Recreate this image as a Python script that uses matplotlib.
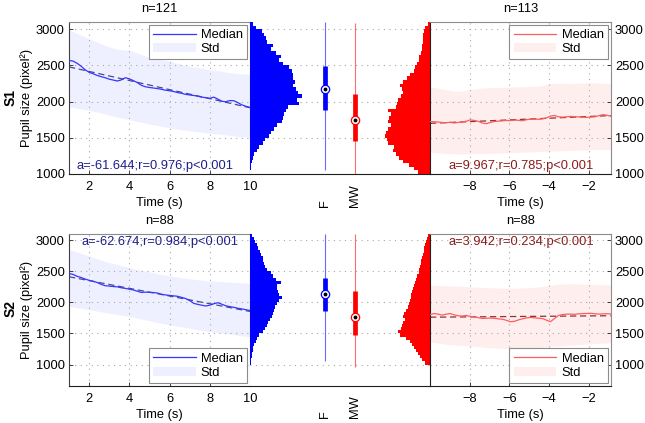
import numpy as np
import matplotlib
matplotlib.use('Agg')
import matplotlib.pyplot as plt

plt.rcParams['font.family'] = ['Liberation Sans', 'DejaVu Sans']
plt.rcParams['font.size'] = 9.3

# ---------------- data ----------------
subjects = ['S1', 'S2']
n_f = [121, 88]
n_mw = [113, 88]
stat_f = ['a=-61.644;r=0.976;p<0.001', 'a=-62.674;r=0.984;p<0.001']
stat_mw = ['a=9.967;r=0.785;p<0.001', 'a=3.942;r=0.234;p<0.001']

# median traces (46 samples over the time window)
s1_f_median = [2570, 2560, 2530, 2490, 2440, 2405, 2385, 2362, 2345, 2330, 2310, 2298,
               2285, 2300, 2330, 2315, 2290, 2262, 2225, 2205, 2195, 2188, 2180, 2170,
               2158, 2150, 2140, 2125, 2115, 2100, 2092, 2085, 2075, 2062, 2055, 2045,
               2062, 2035, 2005, 1998, 2015, 2012, 1985, 1955, 1935, 1920]
s2_f_median = [2465, 2450, 2420, 2400, 2375, 2355, 2340, 2320, 2290, 2268, 2262, 2255,
               2250, 2235, 2225, 2212, 2200, 2180, 2160, 2165, 2162, 2158, 2150, 2130,
               2120, 2112, 2105, 2098, 2080, 2062, 2030, 1985, 1968, 1955, 1942, 1955,
               1978, 1995, 1970, 1945, 1932, 1920, 1905, 1895, 1882, 1870]
s1_mw_median = [1725, 1722, 1718, 1712, 1708, 1715, 1705, 1712, 1722, 1728, 1748, 1740,
                1728, 1705, 1695, 1712, 1725, 1730, 1735, 1740, 1738, 1745, 1742, 1735,
                1750, 1758, 1760, 1755, 1762, 1775, 1800, 1808, 1790, 1785, 1790, 1796,
                1792, 1788, 1784, 1782, 1786, 1790, 1805, 1820, 1812, 1798]
s2_mw_median = [1805, 1820, 1812, 1795, 1810, 1820, 1800, 1785, 1780, 1790, 1775, 1768,
                1755, 1742, 1745, 1748, 1745, 1735, 1730, 1712, 1690, 1695, 1718, 1735,
                1750, 1758, 1752, 1745, 1740, 1715, 1690, 1740, 1790, 1805, 1810, 1812,
                1808, 1815, 1820, 1822, 1825, 1818, 1812, 1815, 1818, 1815]

# std bands (19 samples over the time window)
s1_f_upper = [2990, 2930, 2870, 2810, 2755, 2720, 2710, 2660, 2610, 2585, 2560, 2520,
              2490, 2465, 2440, 2425, 2400, 2385, 2375]
s1_f_lower = [1930, 1905, 1880, 1850, 1815, 1780, 1750, 1720, 1690, 1665, 1640, 1615,
              1595, 1580, 1565, 1550, 1535, 1515, 1505]
s2_f_upper = [2850, 2800, 2745, 2690, 2640, 2600, 2560, 2520, 2490, 2455, 2425, 2400,
              2380, 2360, 2345, 2335, 2325, 2318, 2312]
s2_f_lower = [1940, 1910, 1880, 1855, 1825, 1800, 1775, 1740, 1705, 1670, 1640, 1610,
              1585, 1555, 1530, 1510, 1490, 1465, 1450]
s1_mw_upper = [2205, 2180, 2155, 2140, 2165, 2185, 2195, 2195, 2200, 2205, 2210, 2215,
               2250, 2255, 2250, 2255, 2260, 2255, 2250]
s1_mw_lower = [1300, 1290, 1280, 1275, 1280, 1285, 1285, 1290, 1295, 1300, 1305, 1310,
               1315, 1320, 1325, 1330, 1335, 1340, 1340]
s2_mw_upper = [2280, 2270, 2265, 2262, 2250, 2242, 2235, 2228, 2225, 2230, 2240, 2250,
               2275, 2295, 2300, 2295, 2290, 2285, 2280]
s2_mw_lower = [1365, 1340, 1320, 1310, 1300, 1285, 1270, 1260, 1258, 1262, 1268, 1275,
               1290, 1300, 1315, 1325, 1335, 1345, 1350]

# histogram counts, bins of 50 from 3100 (first) down to 1000 (last)
s1_f_hist = [10, 18, 35, 42, 48, 52, 68, 62, 78, 92, 88, 100, 118, 125, 128, 130, 135,
             130, 138, 145, 155, 140, 148, 115, 108, 102, 98, 95, 80, 72, 62, 58, 45,
             38, 28, 22, 12, 8, 5, 3, 2, 1]
s1_mw_hist = [6, 14, 18, 20, 21, 22, 23, 24, 28, 32, 34, 40, 44, 48, 60, 70, 80, 90,
              85, 82, 88, 95, 98, 102, 125, 118, 122, 127, 118, 127, 132, 134, 130,
              125, 108, 112, 102, 92, 82, 62, 47, 35]
s2_f_hist = [7, 12, 16, 20, 24, 30, 34, 38, 40, 42, 46, 52, 64, 70, 78, 92, 80, 82,
             84, 88, 96, 88, 82, 75, 72, 70, 66, 60, 55, 50, 46, 40, 28, 22, 18, 12,
             10, 8, 7, 5, 4, 2]
s2_mw_hist = [5, 10, 12, 15, 17, 19, 22, 24, 26, 28, 30, 32, 34, 38, 42, 46, 48, 52,
              54, 57, 58, 60, 63, 66, 72, 78, 82, 75, 80, 84, 88, 97, 90, 72, 60, 54,
              48, 42, 36, 30, 24, 16]
hist_edges = np.arange(1000, 3101, 50)

# boxplot summaries: whisker low, q1, median, q3, whisker high
s1_f_box = [1055, 1881, 2180, 2491, 3100]
s1_mw_box = [1000, 1454, 1744, 2102, 3085]
s2_f_box = [1058, 1854, 2140, 2400, 3100]
s2_mw_box = [961, 1470, 1773, 2185, 3100]

box_labels = ['F', 'MW']
f_ticks = [2, 4, 6, 8, 10]
mw_ticks = [-8, -6, -4, -2]

rows = [
    dict(f_med=s1_f_median, f_up=s1_f_upper, f_lo=s1_f_lower,
         mw_med=s1_mw_median, mw_up=s1_mw_upper, mw_lo=s1_mw_lower,
         f_hist=s1_f_hist, mw_hist=s1_mw_hist, f_box=s1_f_box, mw_box=s1_mw_box,
         ylim=(1000, 3100), yticks=[1000, 1500, 2000, 2500, 3000],
         leg='upper right', txt_y=0.053, txt_x=0.475),
    dict(f_med=s2_f_median, f_up=s2_f_upper, f_lo=s2_f_lower,
         mw_med=s2_mw_median, mw_up=s2_mw_upper, mw_lo=s2_mw_lower,
         f_hist=s2_f_hist, mw_hist=s2_mw_hist, f_box=s2_f_box, mw_box=s2_mw_box,
         ylim=(660, 3100), yticks=[1000, 1500, 2000, 2500, 3000],
         leg='lower right', txt_y=0.945, txt_x=0.5),
]

# ---------------- styling ----------------
BLUE_LINE = '#3535ff'
BLUE_BAND = '#eef0ff'
BLUE_FIT = '#4a4a8a'
BLUE_TXT = '#1e1e8c'
RED_LINE = '#ff5c5c'
RED_BAND = '#ffeeee'
RED_FIT = '#8a3434'
RED_TXT = '#8b1c1c'
GRID = dict(color='#a8a8a8', linestyle=(0, (1, 4)), linewidth=0.8)
FRAME_GRAY = '#8c8c8c'
FS = 9.3

W, H = 645, 423
fig = plt.figure(figsize=(W / 100, H / 100), dpi=100)


def fr(x0, y_top, w, h):
    return [x0 / W, 1 - (y_top + h) / H, w / W, h / H]


row_px = [(22, 152), (234, 151.7)]
left_px = (69, 181)
mid_px = (250, 180)
right_px = (430, 180.7)
MID_W = 540.0
POS_F, POS_MW = 225.0, 315.0


def style_ts(ax, side):
    ax.tick_params(direction='in', length=3, width=0.5, labelsize=FS)
    ax.tick_params(axis='x', pad=5)
    ax.tick_params(axis='y', pad=3)
    ax.grid(True, **GRID)
    ax.set_axisbelow(True)
    for s in ['top', 'right', 'left', 'bottom']:
        ax.spines[s].set_linewidth(0.8)
    ax.spines['top'].set_color(FRAME_GRAY)
    ax.spines['bottom'].set_color('#202020')
    if side == 'left':
        ax.spines['right'].set_color(FRAME_GRAY)
        ax.spines['left'].set_color('#404040')
    else:
        ax.spines['left'].set_color('#202020')
        ax.spines['right'].set_color(FRAME_GRAY)


def add_legend(ax, loc):
    h, _ = ax.get_legend_handles_labels()
    lg = ax.legend(handles=h[::-1], loc=loc, fancybox=False, framealpha=1,
                   fontsize=FS, edgecolor=FRAME_GRAY, borderaxespad=0.2,
                   handlelength=3.3, handletextpad=0.4, labelspacing=0.12,
                   borderpad=0.35)
    lg.get_frame().set_linewidth(0.8)


for r, row in enumerate(rows):
    top, h = row_px[r]
    ax_l = fig.add_axes(fr(left_px[0], top, left_px[1], h))
    ax_m = fig.add_axes(fr(mid_px[0], top, mid_px[1], h))
    ax_r = fig.add_axes(fr(right_px[0], top, right_px[1], h))

    # ---- left: F time course ----
    t_f = np.linspace(1, 10, len(row['f_med']))
    tb_f = np.linspace(1, 10, len(row['f_up']))
    ax_l.fill_between(tb_f, row['f_lo'], row['f_up'], color=BLUE_BAND, lw=0,
                      zorder=0.3, label='Std')
    ax_l.plot(t_f, row['f_med'], color=BLUE_LINE, lw=0.9, zorder=3, label='Median')
    cf = np.polyfit(t_f, row['f_med'], 1)
    ax_l.plot(t_f, np.polyval(cf, t_f), color=BLUE_FIT, lw=0.9, ls=(0, (5, 3)), zorder=2.5)
    ax_l.set_xlim(1, 10)
    ax_l.set_ylim(*row['ylim'])
    ax_l.set_xticks(f_ticks)
    ax_l.set_yticks(row['yticks'])
    style_ts(ax_l, 'left')
    ax_l.set_xlabel('Time (s)', fontsize=FS, labelpad=3)
    ax_l.set_ylabel('Pupil size (pixel²)', fontsize=FS, labelpad=2)
    ax_l.set_title('n=%d' % n_f[r], fontsize=FS, pad=7)
    ax_l.text(row['txt_x'], row['txt_y'], stat_f[r], transform=ax_l.transAxes,
              ha='center', va='center', color=BLUE_TXT, fontsize=FS)
    add_legend(ax_l, row['leg'])

    # subject label
    fig.text(11 / W, 1 - (top + h / 2 - 1) / H, subjects[r], rotation=90, fontsize=10,
             fontweight='bold', ha='center', va='center')

    # ---- middle: histograms & boxplots ----
    centers = (hist_edges[:-1] + hist_edges[1:]) / 2
    fh = np.array(row['f_hist'][::-1], dtype=float)
    mh = np.array(row['mw_hist'][::-1], dtype=float)
    ax_m.barh(centers, fh, height=50, left=0, color='#0000ff', lw=0, zorder=2)
    ax_m.barh(centers, mh, height=50, left=MID_W - mh, color='#ff0000', lw=0, zorder=2)
    for pos, b, col, wcol in [(POS_F, row['f_box'], '#0000ff', '#6a6aff'),
                              (POS_MW, row['mw_box'], '#ff0000', '#ff6a6a')]:
        ax_m.plot([pos, pos], [b[0], b[4]], color=wcol, lw=0.8, zorder=3,
                  solid_capstyle='butt')
        ax_m.plot([pos, pos], [b[1], b[3]], color=col, lw=3.4, zorder=4,
                  solid_capstyle='butt')
        ax_m.plot([pos], [b[2]], marker='o', ms=6, mfc='white', mec=col, mew=0.9, zorder=5)
        ax_m.plot([pos], [b[2]], marker='o', ms=1.8, mfc='black', mec='black', zorder=6)
    ax_m.set_xlim(0, MID_W)
    ax_m.set_ylim(*row['ylim'])
    ax_m.set_yticks(row['yticks'])
    ax_m.grid(True, axis='y', **GRID)
    ax_m.set_axisbelow(True)
    ax_m.tick_params(axis='y', length=0, labelleft=False)
    ax_m.set_xticks([POS_F, POS_MW])
    ax_m.tick_params(axis='x', direction='in', length=0, labelbottom=False)
    for s in ['top', 'left', 'right']:
        ax_m.spines[s].set_visible(False)
    ax_m.spines['bottom'].set_color('#202020')
    ax_m.spines['bottom'].set_linewidth(0.8)
    for pos, lab in zip([POS_F, POS_MW], box_labels):
        ax_m.annotate(lab, xy=(pos, 0), xycoords=('data', 'axes fraction'),
                      xytext=(0, -23.5), textcoords='offset points', rotation=90,
                      ha='center', va='bottom', fontsize=FS)

    # ---- right: MW time course ----
    t_mw = np.linspace(-10, -0.9, len(row['mw_med']))
    tb_mw = np.linspace(-10, -0.9, len(row['mw_up']))
    ax_r.fill_between(tb_mw, row['mw_lo'], row['mw_up'], color=RED_BAND, lw=0,
                      zorder=0.3, label='Std')
    ax_r.plot(t_mw, row['mw_med'], color=RED_LINE, lw=0.9, zorder=3, label='Median')
    cm = np.polyfit(t_mw, row['mw_med'], 1)
    ax_r.plot(t_mw, np.polyval(cm, t_mw), color=RED_FIT, lw=0.9, ls=(0, (5, 3)), zorder=2.5)
    ax_r.set_xlim(-10, -0.9)
    ax_r.set_ylim(*row['ylim'])
    ax_r.set_xticks(mw_ticks)
    ax_r.set_xticklabels(['\u2212%d' % abs(v) for v in mw_ticks])
    ax_r.set_yticks(row['yticks'])
    ax_r.yaxis.tick_right()
    style_ts(ax_r, 'right')
    ax_r.set_xlabel('Time (s)', fontsize=FS, labelpad=3)
    ax_r.set_title('n=%d' % n_mw[r], fontsize=FS, pad=7)
    ax_r.text(0.507, row['txt_y'], stat_mw[r], transform=ax_r.transAxes,
              ha='center', va='center', color=RED_TXT, fontsize=FS)
    add_legend(ax_r, row['leg'])

fig.savefig('out.png', dpi=100)
